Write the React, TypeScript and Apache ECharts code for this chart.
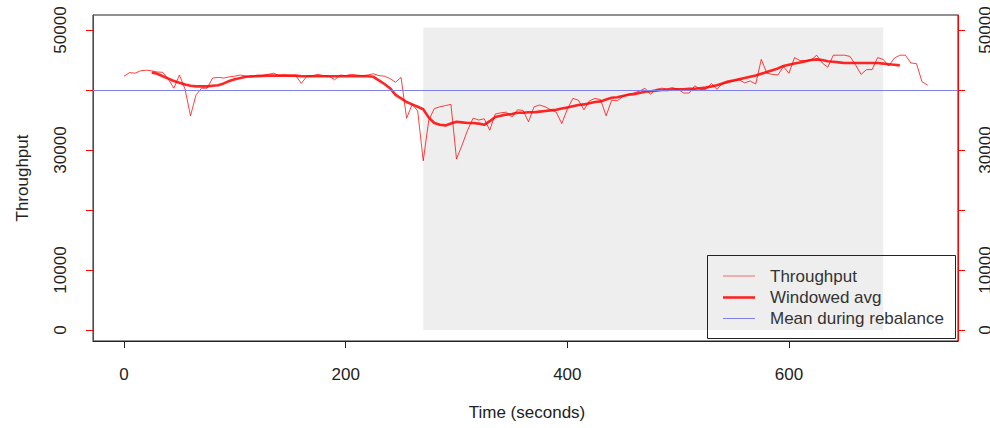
import React, { useEffect, useRef } from "react";
import * as echarts from "echarts";

// Throughput sampled every 5 s starting at t = 0
const THROUGHPUT_START = 0;
const THROUGHPUT_STEP = 5;
const throughput = [
  42300, 42900, 42800, 43200, 43300, 43200, 43000, 42950, 41800, 40300,
  42500, 40200, 35700, 39200, 40300, 40300, 42000, 42100, 42000, 42200,
  42300, 42500, 42300, 42100, 42500, 42400, 42600, 42800, 42400, 42500,
  42300, 42400, 41100, 42300, 42400, 42600, 42400, 42300, 41700, 42500,
  42400, 42600, 42500, 42400, 42500, 42700, 42400, 42300, 41900, 41300,
  42100, 35300, 37600, 36500, 28200, 35000, 36900, 37200, 37400, 37600,
  28500, 30800, 33300, 35300, 35000, 35200, 33300, 36000, 36200, 36300,
  35500, 36700, 36600, 34700, 37200, 37500, 37200, 36700, 36300, 34400,
  36800, 38600, 38300, 36700, 38200, 38600, 38400, 35700, 38300, 38200,
  38900, 39300, 39500, 39800, 40300, 39300, 40100, 40300, 40200, 40400,
  40100, 39500, 39500, 40700, 40100, 40100, 41100, 40100, 41100, 41200,
  41500, 41700, 41200, 41500, 41000, 45100, 42800, 42600, 42500, 43900,
  42800, 45400, 44900, 44900, 45000, 45800, 44500, 43800, 45800, 45800,
  45800, 45600, 44200, 42600, 43400, 43400, 45400, 45100, 44000, 45300,
  45800, 45800, 44500, 44400, 41400, 40800,
];

// Windowed average sampled every 5 s starting at t = 25
const AVG_START = 25;
const AVG_STEP = 5;
const windowedAvg = [
  42900, 42700, 42300, 41900, 41500, 41200, 40900, 40700, 40600, 40600,
  40600, 40700, 40800, 41100, 41500, 41800, 42000, 42200, 42300, 42300,
  42350, 42400, 42400, 42400, 42400, 42400, 42400, 42300, 42300, 42300,
  42300, 42300, 42300, 42300, 42300, 42300, 42300, 42300, 42300, 42300,
  42200, 41600, 41000, 40300, 39200, 38600, 38000, 37600, 37200, 36800,
  35400, 34500, 34200, 34100, 34400, 34700, 34600, 34500, 34500, 34400,
  34200, 34800, 35500, 35700, 35900, 36000, 36200, 36200, 36300, 36300,
  36400, 36500, 36600, 36700, 36900, 37100, 37300, 37500, 37600, 37800,
  38000, 38100, 38400, 38700, 38800, 39000, 39200, 39300, 39500, 39700,
  39800, 39900, 40000, 40000, 40100, 40100, 40100, 40200, 40200, 40300,
  40400, 40600, 40800, 41100, 41400, 41600, 41800, 42000, 42200, 42400,
  42700, 43000, 43300, 43600, 44000, 44200, 44400, 44600, 44800, 45000,
  45100, 45000, 44800, 44700, 44600, 44500, 44500, 44500, 44500, 44500,
  44500, 44500, 44400, 44300, 44200, 44100,
];

const rebalanceWindow = [270, 685];
const rebalanceTop = 50400;
const meanDuringRebalance = 39900;

const xTicks = [0, 200, 400, 600];
const yTicks = [0, 10000, 20000, 30000, 40000, 50000];
const yLabels = [0, 10000, 30000, 50000];

const legendItems = ["Throughput", "Windowed avg", "Mean during rebalance"];

const X_MIN = -27.97;
const X_MAX = 752.5;
const Y_MIN = -1833;
const Y_MAX = 52500;

const FONT = "Liberation Sans, Arial, Helvetica, sans-serif";

export default function App() {
  const ref = useRef<HTMLDivElement>(null);
  useEffect(() => {
    document.body.style.margin = "0";
    if (!ref.current) return;
    const chart = echarts.init(ref.current, null, { renderer: "svg" });

    const thrData = throughput.map((v, i) => [THROUGHPUT_START + i * THROUGHPUT_STEP, v]);
    const avgData = windowedAvg.map((v, i) => [AVG_START + i * AVG_STEP, v]);

    const yAxisCommon = (margin: number) => ({
      type: "value" as const,
      min: Y_MIN,
      max: Y_MAX,
      splitLine: { show: false },
      axisLine: { show: true, onZero: false, lineStyle: { color: "#ff0000", width: 1 } },
      axisTick: {
        show: true,
        length: 7,
        customValues: yTicks,
        lineStyle: { color: "#ff0000", width: 1 },
      },
      axisLabel: {
        show: true,
        rotate: 90,
        customValues: yLabels,
        formatter: (v: number) => String(v),
        color: "#222",
        fontFamily: FONT,
        fontSize: 17,
        margin,
      },
    });

    chart.setOption({
      animation: false,
      grid: {
        left: 93,
        top: 15,
        width: 865,
        height: 326,
        show: true,
        borderColor: "#222",
        borderWidth: 1,
        backgroundColor: "transparent",
        containLabel: false,
        outerBoundsMode: "none",
      },
      xAxis: {
        type: "value",
        min: X_MIN,
        max: X_MAX,
        splitLine: { show: false },
        axisLine: { show: true, onZero: false, lineStyle: { color: "#222", width: 1 } },
        axisTick: {
          show: true,
          length: 7,
          customValues: xTicks,
          lineStyle: { color: "#222" },
        },
        axisLabel: {
          customValues: xTicks,
          formatter: (v: number) => String(v),
          color: "#222",
          fontFamily: FONT,
          fontSize: 17,
          margin: 25,
        },
      },
      yAxis: [
        { ...yAxisCommon(24), position: "left" },
        { ...yAxisCommon(19), position: "right" },
      ],
      series: [
        {
          name: "rebalance",
          type: "line",
          data: [],
          z: 1,
          silent: true,
          markArea: {
            silent: true,
            itemStyle: { color: "#eeeeee" },
            data: [
              [
                { coord: [rebalanceWindow[0], 0] },
                { coord: [rebalanceWindow[1], rebalanceTop] },
              ],
            ],
          },
        },
        {
          name: "Throughput",
          type: "line",
          data: thrData,
          showSymbol: false,
          symbol: "none",
          z: 3,
          lineStyle: { color: "rgba(255,0,0,0.75)", width: 1 },
        },
        {
          name: "Windowed avg",
          type: "line",
          data: avgData,
          showSymbol: false,
          symbol: "none",
          z: 4,
          lineStyle: { color: "rgba(255,0,0,0.85)", width: 2.6 },
        },
        {
          name: "Mean during rebalance",
          type: "line",
          data: [],
          z: 5,
          markLine: {
            silent: true,
            symbol: "none",
            label: { show: false },
            lineStyle: { color: "#8080e6", width: 1, type: "solid" },
            data: [{ yAxis: meanDuringRebalance }],
          },
        },
      ],
      graphic: [
        {
          type: "text",
          x: 22,
          y: 178,
          rotation: Math.PI / 2,
          style: {
            text: "Throughput",
            fill: "#222",
            font: `17px ${FONT}`,
            align: "center",
            verticalAlign: "middle",
          },
        },
        {
          type: "text",
          x: 527,
          y: 412,
          style: {
            text: "Time (seconds)",
            fill: "#222",
            font: `17px ${FONT}`,
            align: "center",
            verticalAlign: "middle",
          },
        },
        {
          type: "rect",
          z: 10,
          shape: { x: 707.5, y: 255.5, width: 248, height: 83 },
          style: { fill: "transparent", stroke: "#222", lineWidth: 1 },
        },
        {
          type: "line",
          z: 10,
          shape: { x1: 723, y1: 276, x2: 755, y2: 276 },
          style: { stroke: "rgba(255,0,0,0.55)", lineWidth: 1 },
        },
        {
          type: "line",
          z: 10,
          shape: { x1: 723, y1: 297.5, x2: 755, y2: 297.5 },
          style: { stroke: "rgba(255,0,0,0.85)", lineWidth: 2.6 },
        },
        {
          type: "line",
          z: 10,
          shape: { x1: 723, y1: 318.5, x2: 755, y2: 318.5 },
          style: { stroke: "#8080e6", lineWidth: 1 },
        },
        ...legendItems.map((t, i) => ({
          type: "text",
          z: 10,
          x: 770,
          y: [276, 297.5, 318.5][i],
          style: {
            text: t,
            fill: "#333",
            font: `17px ${FONT}`,
            align: "left",
            verticalAlign: "middle",
          },
        })),
      ],
    });
    return () => chart.dispose();
  }, []);
  return <div ref={ref} style={{ width: 990, height: 428 }} />;
}
